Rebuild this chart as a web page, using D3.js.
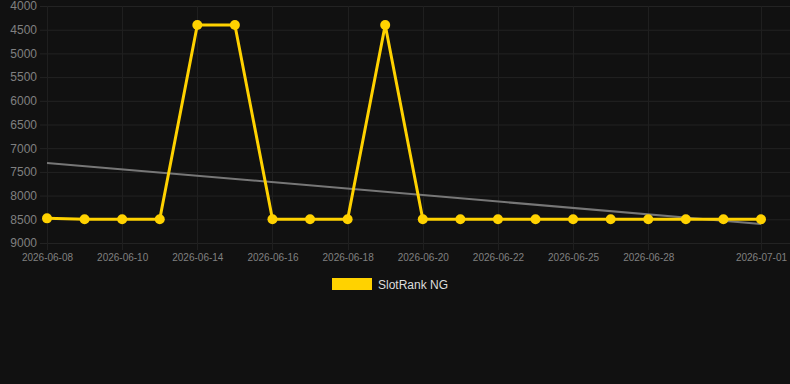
<!DOCTYPE html>
<html>
<head>
<meta charset="utf-8">
<script src="https://cdn.jsdelivr.net/npm/d3@7"></script>
<style>
  body { margin: 0; background: #111111; }
  svg { display: block; font-family: "Liberation Sans", Arial, sans-serif; }
</style>
</head>
<body>
<div id="chart"></div>
<script>
// categories (every other one is labelled on the axis)
var dates = ["2026-06-08", "2026-06-09", "2026-06-10", "2026-06-12", "2026-06-14",
             "2026-06-15", "2026-06-16", "2026-06-17", "2026-06-18", "2026-06-19",
             "2026-06-20", "2026-06-21", "2026-06-22", "2026-06-24", "2026-06-25",
             "2026-06-27", "2026-06-28", "2026-06-29", "2026-06-30", "2026-07-01"];
var shownLabels = ["2026-06-08", "2026-06-10", "2026-06-14", "2026-06-16", "2026-06-18",
                   "2026-06-20", "2026-06-22", "2026-06-25", "2026-06-28", "2026-07-01"];
var rank = [8480, 8500, 8500, 8500, 4400, 4400, 8500, 8500, 8500, 4400,
            8500, 8500, 8500, 8500, 8500, 8500, 8500, 8500, 8500, 8500];
// trend line ends (first and last category)
var trend = [7310, 8600];
var yTicks = [4000, 4500, 5000, 5500, 6000, 6500, 7000, 7500, 8000, 8500, 9000];
var seriesName = "SlotRank NG";

var svgWidth = 790, svgHeight = 384;
var svg = d3.select("#chart").append("svg")
  .attr("width", svgWidth)
  .attr("height", svgHeight);

var xScale = d3.scalePoint().domain(dates).range([47, 761]);
var yScale = d3.scaleLinear().domain([4000, 9000]).range([6, 243]);

// horizontal grid
svg.append("g").selectAll("line")
  .data(yTicks)
  .enter().append("line")
  .attr("x1", 40).attr("x2", svgWidth)
  .attr("y1", d => yScale(d) + 0.5).attr("y2", d => yScale(d) + 0.5)
  .attr("stroke", "#232323").attr("stroke-width", 1);

// vertical grid
svg.append("g").selectAll("line")
  .data(shownLabels)
  .enter().append("line")
  .attr("x1", d => Math.round(xScale(d)) + 0.5).attr("x2", d => Math.round(xScale(d)) + 0.5)
  .attr("y1", yScale(4000)).attr("y2", yScale(9000) + 7)
  .attr("stroke", "#1f1f1f").attr("stroke-width", 1);

// y axis labels
var yAxis = d3.axisLeft(yScale).tickValues(yTicks).tickFormat(d3.format("d"))
  .tickSize(0).tickPadding(0);
var yg = svg.append("g").attr("transform", "translate(37,0)").call(yAxis);
yg.select(".domain").remove();
yg.selectAll("text").attr("fill", "#808080").attr("font-size", 12);

// x axis labels
var xAxis = d3.axisBottom(xScale).tickValues(shownLabels).tickSize(0).tickPadding(0);
var xg = svg.append("g").attr("transform", "translate(0,254)").call(xAxis);
xg.select(".domain").remove();
xg.selectAll("text").attr("fill", "#808080").attr("font-size", 10);

// trend line
svg.append("line")
  .attr("x1", xScale(dates[0])).attr("y1", yScale(trend[0]))
  .attr("x2", xScale(dates[dates.length - 1])).attr("y2", yScale(trend[1]))
  .attr("stroke", "#777777").attr("stroke-width", 2);

// series line
var line = d3.line()
  .x((d, i) => xScale(dates[i]))
  .y(d => yScale(d));

svg.append("path")
  .datum(rank)
  .attr("d", line)
  .attr("fill", "none")
  .attr("stroke", "#FFD200")
  .attr("stroke-width", 3)
  .attr("stroke-linejoin", "round");

svg.append("g").selectAll("circle")
  .data(rank)
  .enter().append("circle")
  .attr("cx", (d, i) => xScale(dates[i]))
  .attr("cy", d => yScale(d))
  .attr("r", 5)
  .attr("fill", "#FFD200");

// legend
svg.append("rect")
  .attr("x", 332).attr("y", 278)
  .attr("width", 40).attr("height", 12)
  .attr("fill", "#FFD200");
svg.append("text")
  .attr("x", 378).attr("y", 289)
  .attr("fill", "#dddddd")
  .attr("font-size", 12)
  .text(seriesName);
</script>
</body>
</html>
